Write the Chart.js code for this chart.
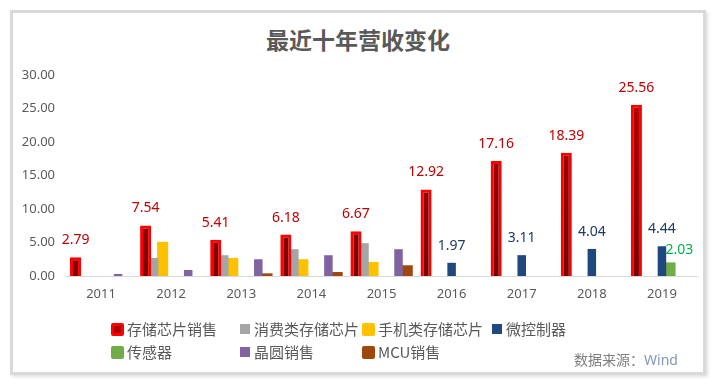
<!DOCTYPE html>
<html>
<head>
<meta charset="utf-8">
<script src="https://cdn.jsdelivr.net/npm/chart.js@4.4.1/dist/chart.umd.min.js"></script>
<style>
  html, body { margin:0; padding:0; background:#ffffff; }
  body { width:716px; height:390px; position:relative; overflow:hidden; font-family:"Noto Sans CJK SC","Noto Sans",sans-serif; }
  #frame { position:absolute; left:10px; top:10px; width:690px; height:359px; border:3px solid #d9d9d9; background:#fff; box-shadow:2px 2px 3px rgba(0,0,0,0.12); }
  #c { position:absolute; left:0; top:0; }
  #title { position:absolute; left:0; width:716px; top:26px; text-align:center; font-size:23px; line-height:26px; font-weight:bold; color:#595959; }
  .lg { position:absolute; font-size:15px; line-height:18px; color:#595959; white-space:nowrap; }
  .bx { position:absolute; box-sizing:border-box; }
  #src { position:absolute; left:574px; top:350px; font-size:14px; line-height:18px; color:#7f7f7f; white-space:nowrap; }
  #src span { color:#8496b0; font-family:"Noto Sans",sans-serif; }
</style>
</head>
<body>
<div id="frame"></div>
<div id="title">最近十年营收变化</div>
<canvas id="c" width="716" height="390"></canvas>
<div id="legend"></div>
<div id="src">数据来源：<span>Wind</span></div>
<script>
// ---- data ----
const categories = ['2011','2012','2013','2014','2015','2016','2017','2018','2019'];
const seriesNames = ['存储芯片销售','消费类存储芯片','手机类存储芯片','微控制器','传感器','晶圆销售','MCU销售'];
const storageChips   = [2.79, 7.54, 5.41, 6.18, 6.67, 12.92, 17.16, 18.39, 25.56];
const consumerChips  = [null, 2.7, 3.1, 4.0, 4.9, null, null, null, null];
const mobileChips    = [null, 5.1, 2.7, 2.5, 2.1, null, null, null, null];
const microControl   = [null, null, null, null, null, 1.97, 3.11, 4.04, 4.44];
const sensors        = [null, null, null, null, null, null, null, null, 2.03];
const waferSales     = [0.3, 0.9, 2.5, 3.1, 4.0, null, null, null, null];
const mcuSales       = [null, null, 0.4, 0.6, 1.6, null, null, null, null];
const yTicks = [0, 5, 10, 15, 20, 25, 30];

// ---- styles ----
const colors = ['#ff0000','#a5a5a5','#ffc000','#1f497d','#70ad47','#8064a2','#9e480e'];
const barPct = [1.3, 1.0, 1.3, 1.0, 1.2, 1.0, 1.35];
const labelStyle = { 0:{color:'#c00000', dx:0, off:10}, 3:{color:'#203864', dx:0, off:10}, 4:{color:'#00b050', dx:9, off:5} };

const allSeries = [storageChips, consumerChips, mobileChips, microControl, sensors, waferSales, mcuSales];

function redGradient(ctx) {
  const ca = ctx.chart.chartArea;
  if (!ca) return '#a00000';
  const g = ctx.chart.ctx.createLinearGradient(0, ca.top, 0, ca.bottom);
  g.addColorStop(0, '#c00000');
  g.addColorStop(1, '#7a0000');
  return g;
}

const datasets = allSeries.map((d, i) => ({
  label: seriesNames[i],
  data: d,
  backgroundColor: i === 0 ? redGradient : colors[i],
  borderColor: i === 0 ? '#ff0000' : colors[i],
  borderWidth: i === 0 ? {top:3,left:3,right:3,bottom:0} : 0,
  borderSkipped: false,
  barPercentage: barPct[i],
  categoryPercentage: 0.85
}));

const labelPlugin = {
  id: 'valueLabels',
  afterDatasetsDraw(chart) {
    const ctx = chart.ctx;
    ctx.save();
    ctx.font = '14px "Noto Sans", sans-serif';
    ctx.textAlign = 'center';
    ctx.textBaseline = 'bottom';
    chart.data.datasets.forEach((ds, i) => {
      const st = labelStyle[i];
      if (!st) return;
      const meta = chart.getDatasetMeta(i);
      meta.data.forEach((el, j) => {
        const v = ds.data[j];
        if (v === null || v === undefined) return;
        ctx.fillStyle = st.color;
        ctx.fillText(v.toFixed(2), el.x + st.dx, el.y - st.off);
      });
    });
    ctx.restore();
  }
};

new Chart(document.getElementById('c'), {
  type: 'bar',
  data: { labels: categories, datasets },
  options: {
    responsive: false,
    animation: false,
    layout: { padding: { left: 0, right: 19, top: 75, bottom: 84 } },
    plugins: { legend: { display: false }, tooltip: { enabled: false }, title: { display: false } },
    scales: {
      x: {
        grid: { display: true, color: 'rgba(0,0,0,0)', drawTicks: false },
        border: { display: true, color: '#d9d9d9', width: 1 },
        ticks: { color: '#595959', font: { family: '"Noto Sans", sans-serif', size: 13 }, padding: 10 },
        afterFit(s) { s.height = 30; }
      },
      y: {
        min: 0, max: 30,
        afterBuildTicks(s) { s.ticks = yTicks.map(v => ({ value: v })); },
        grid: { display: false, drawTicks: false },
        border: { display: false },
        ticks: { color: '#595959', font: { family: '"Noto Sans", sans-serif', size: 13 }, padding: 11,
                 callback: v => Number(v).toFixed(2) },
        afterFit(s) { s.width = 66; }
      }
    }
  },
  plugins: [labelPlugin]
});

// ---- HTML legend built from series names/colors ----
const legendCols = [111, 238, 362, 490];
const legendRows = [329, 352];
const legendOrder = [[0,1,2,3],[4,5,6]];
const boxSizes = [13, 10, 13, 10, 13, 10, 13];
const lg = document.getElementById('legend');
legendOrder.forEach((row, r) => {
  row.forEach((si, c) => {
    const cy = legendRows[r];
    const x = legendCols[c];
    const bs = boxSizes[si];
    const b = document.createElement('div');
    b.className = 'bx';
    b.style.left = (x + (13 - bs) / 2) + 'px';
    b.style.top = (cy - bs / 2) + 'px';
    b.style.width = bs + 'px';
    b.style.height = bs + 'px';
    if (si === 0) {
      b.style.background = '#b00000';
      b.style.border = '3px solid #ff0000';
      b.style.borderRadius = '2px';
    } else {
      b.style.background = colors[si];
      b.style.borderRadius = bs > 11 ? '2px' : '0';
    }
    lg.appendChild(b);
    const t = document.createElement('div');
    t.className = 'lg';
    t.textContent = seriesNames[si];
    t.style.left = (x + 16) + 'px';
    t.style.top = (cy - 9) + 'px';
    lg.appendChild(t);
  });
});
</script>
</body>
</html>
